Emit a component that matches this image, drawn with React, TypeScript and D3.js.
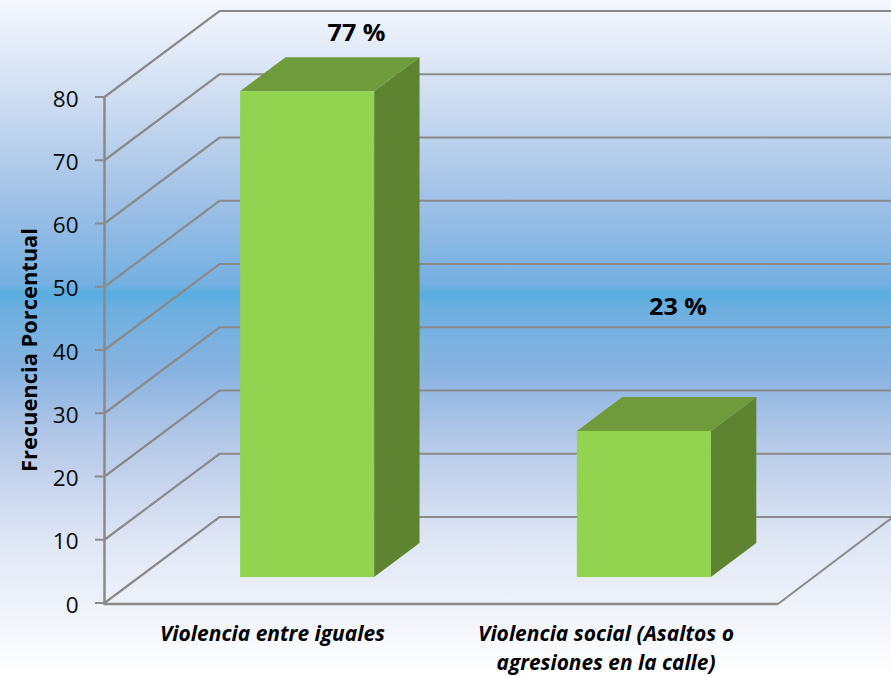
import React from "react";
import * as d3 from "d3";

const categories = ["Violencia entre iguales", "Violencia social (Asaltos o agresiones en la calle)"];
const categoryLines = [["Violencia entre iguales"], ["Violencia social (Asaltos o", "agresiones en la calle)"]];
const values = [76.8, 23.1];
const barLabels = ["77 %", "23 %"];
const ticks = [0, 10, 20, 30, 40, 50, 60, 70, 80];
const yTitle = "Frecuencia Porcentual";
const bgStops: [number, string][] = [
  [0, "#f5f8fe"],
  [0.15, "#cddcf1"],
  [0.3, "#9fc0e6"],
  [0.42, "#74b0e2"],
  [0.433, "#5caee0"],
  [0.441, "#5caee0"],
  [0.453, "#6cafe0"],
  [0.55, "#89b3e1"],
  [0.65, "#b4c8e8"],
  [0.8, "#dfe6f5"],
  [1, "#ffffff"],
];

const W = 891, H = 676;
const x = d3.scaleBand<string>().domain(categories).range([104, 777.5]).paddingInner(0).paddingOuter(0);
const y = d3.scaleLinear().domain([0, 80]).range([603, 97]);
const DEPTH_X = 115, DEPTH_Y = 86;
const barFrac = 0.398, frontFrac = 0.302, depthFrac = 0.395;
const grey = "#8a8a8a";
const font = "'Open Sans', 'Noto Sans', sans-serif";
const poly = d3.line();

export default function App() {
  const bars = categories.map((c, i) => {
    const cx = x(c)! + x.bandwidth() / 2 + DEPTH_X * frontFrac;
    const w = x.bandwidth() * barFrac;
    const base = y(0) - DEPTH_Y * frontFrac;
    const h = y(0) - y(values[i]);
    const l = cx - w / 2, r = cx + w / 2, t = base - h;
    const dx = DEPTH_X * depthFrac, dy = DEPTH_Y * depthFrac;
    return { c, i, cx, l, r, t, base, dx, dy };
  });
  return (
    <svg width={W} height={H} viewBox={`0 0 ${W} ${H}`} style={{ position: "fixed", left: 0, top: 0, display: "block" }}>
      <defs>
        <linearGradient id="bg" x1="0" y1="0" x2="0" y2="1">
          {bgStops.map(([o, c]) => <stop key={o} offset={o} stopColor={c} />)}
        </linearGradient>
      </defs>
      <rect width={W} height={H} fill="url(#bg)" />
      {/* walls */}
      {ticks.map(t => (
        <path key={t} fill="none" stroke={grey} strokeWidth={2.2}
          d={poly([[104.5, y(t)], [104.5 + DEPTH_X, y(t) - DEPTH_Y], [W + 5, y(t) - DEPTH_Y]])!} />
      ))}
      <path fill="none" stroke={grey} strokeWidth={2}
        d={poly([[778, y(0) + 1], [778 + DEPTH_X, y(0) - DEPTH_Y]])!} />
      {/* front axes */}
      <line x1={104.5} x2={104.5} y1={y(80)} y2={y(0) + 2} stroke={grey} strokeWidth={2.5} />
      <line x1={104} x2={778} y1={y(0) + 1} y2={y(0) + 1} stroke={grey} strokeWidth={2.5} />
      {ticks.map(t => (
        <g key={t}>
          <line x1={95} x2={104.5} y1={y(t)} y2={y(t)} stroke={grey} strokeWidth={2} />
          <text x={78.5} y={y(t) + 9.5} textAnchor="end" fontFamily={font} fontSize={22.5} fill="#0a0a0a">{t}</text>
        </g>
      ))}
      {/* bars */}
      {bars.map(b => (
        <g key={b.c}>
          <path fill="#5e8431" d={poly([[b.r, b.t], [b.r + b.dx, b.t - b.dy], [b.r + b.dx, b.base - b.dy], [b.r, b.base]])! + "Z"} />
          <path fill="#6f9b3c" d={poly([[b.l, b.t], [b.l + b.dx, b.t - b.dy], [b.r + b.dx, b.t - b.dy], [b.r, b.t]])! + "Z"} />
          <rect x={b.l} y={b.t} width={b.r - b.l} height={b.base - b.t} fill="#92d350" />
        </g>
      ))}
      {/* data labels */}
      <text x={356.5} y={40.5} textAnchor="middle" fontFamily={font} fontWeight={700} fontSize={24} fill="#000" textLength={58} lengthAdjust="spacingAndGlyphs">{barLabels[0]}</text>
      <text x={678} y={314.5} textAnchor="middle" fontFamily={font} fontWeight={700} fontSize={24} fill="#000" textLength={58} lengthAdjust="spacingAndGlyphs">{barLabels[1]}</text>
      {/* category labels */}
      {categoryLines.map((ls, i) => ls.map((s, j) => {
        const cxs = [272.5, 606];
        const lens = [[225], [256, 219]];
        return (
          <text key={s} x={cxs[i]} y={641 + j * 29} textAnchor="middle" fontFamily={font} fontStyle="italic" fontWeight={700}
            fontSize={20.5} fill="#000" textLength={lens[i][j]} lengthAdjust="spacingAndGlyphs">{s}</text>
        );
      }))}
      {/* y title */}
      <text transform="translate(36.5,350) rotate(-90)" textAnchor="middle" fontFamily={font} fontWeight={700} fontSize={21} fill="#000" textLength={244} lengthAdjust="spacingAndGlyphs">{yTitle}</text>
    </svg>
  );
}
